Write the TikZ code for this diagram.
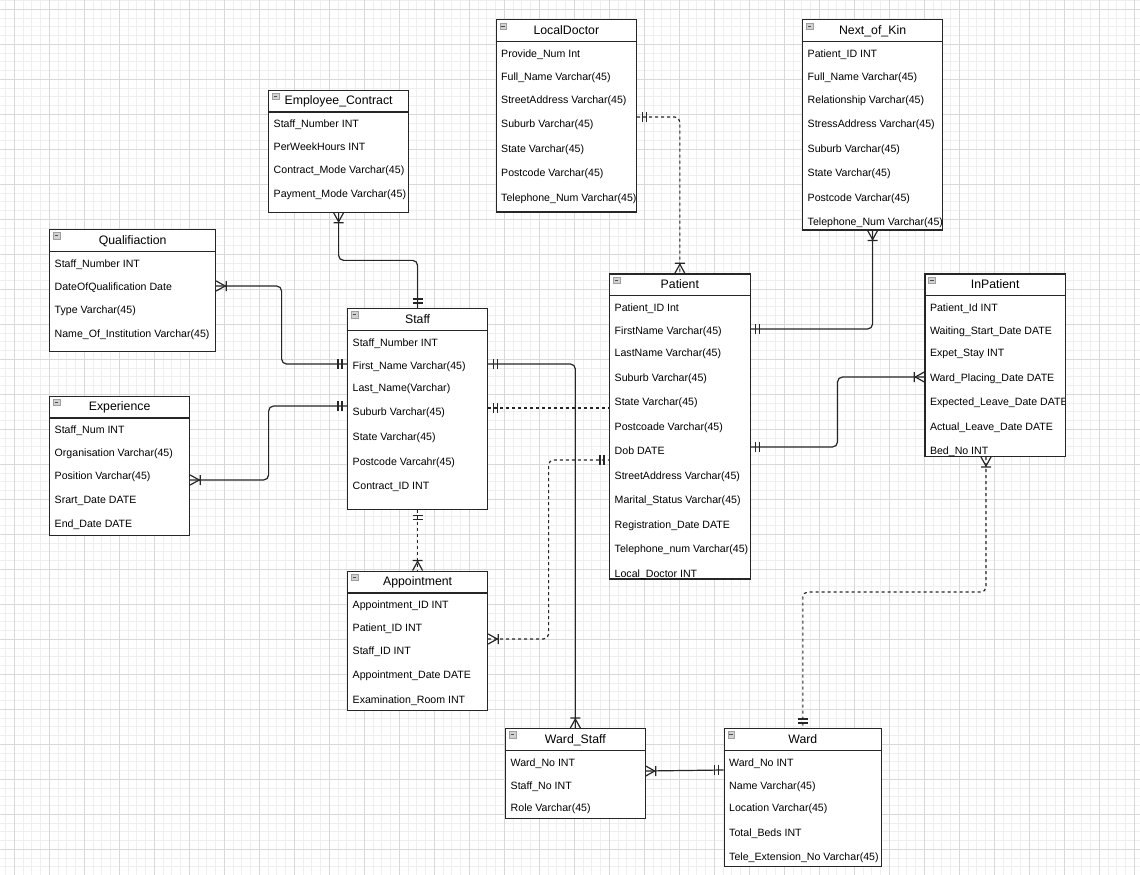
\documentclass[tikz,border=0pt]{standalone}
\usepackage{fontspec}
\setmainfont{Liberation Sans}
\usetikzlibrary{calc}
\definecolor{gminor}{HTML}{EFEFEF}
\definecolor{gmajor}{HTML}{D8D8D8}
\definecolor{lnc}{HTML}{262626}
\tikzset{
 ent/.style={draw=lnc, line width=1.2pt, fill=white, rectangle, inner sep=0pt, anchor=north west},
 hdr/.style={draw=lnc, line width=1.2pt},
 ttl/.style={font=\fontsize{12.3}{14}\selectfont, inner sep=0pt, text=black},
 rowtxt/.style={font=\fontsize{10.6}{12}\selectfont, inner sep=0pt, anchor=base west, text=black},
 icon/.style={draw=gray!75, fill=gray!35, minimum size=6.5pt, inner sep=0pt, line width=0.5pt,
   path picture={\draw[black!70, line width=0.8pt] ([xshift=1.3pt]path picture bounding box.west) -- ([xshift=-1.3pt]path picture bounding box.east);}},
 conn/.style={draw=lnc, line width=1.2pt, rounded corners=5pt},
 dsh/.style={dash pattern=on 3pt off 3pt},
 mk/.style={draw=lnc, line width=1.2pt, solid},
}
\newcommand\entity[6]{%
 \node[ent, minimum width=#4pt, minimum height=#5pt] (#1) at (#2,#3) {};
 \draw[hdr] ([yshift=-22.5pt]#1.north west) -- ([yshift=-22.5pt]#1.north east);
 \node[ttl, anchor=base] (#1-t) at ([yshift=-15.3pt]#1.north) {#6};
 \node[icon] (#1-i) at ([xshift=7.5pt,yshift=-6.8pt]#1.north west) {};
}
\newcommand\rw[4]{\node[rowtxt] (#1) at ($(#2.west |- 0,#3)+(5.5,4.1)$) {#4};}
\newcommand\mOne[2]{%
 \pgfmathsetmacro\mpa{#2+90}\pgfmathsetmacro\mpb{#2-90}%
 \draw[mk] ($(#1)+(#2:5)+(\mpa:5)$) -- ($(#1)+(#2:5)+(\mpb:5)$)
           ($(#1)+(#2:9)+(\mpa:5)$) -- ($(#1)+(#2:9)+(\mpb:5)$);}
\newcommand\mMany[2]{%
 \pgfmathsetmacro\mpa{#2+90}\pgfmathsetmacro\mpb{#2-90}%
 \draw[mk] ($(#1)+(#2:10)+(\mpa:5)$) -- ($(#1)+(#2:10)+(\mpb:5)$)
           ($(#1)+(\mpa:5)$) -- ($(#1)+(#2:9)$) -- ($(#1)+(\mpb:5)$);}
\begin{document}
\begin{tikzpicture}[x=1pt,y=-1pt]
\useasboundingbox (0,0) rectangle (1140,875);
\fill[white] (0,0) rectangle (1140,875);
% grid
\foreach \i in {0,...,129} \draw[gminor, line width=0.7pt] ({5.55+8.75*\i},0) -- ({5.55+8.75*\i},875);
\foreach \i in {0,...,99} \draw[gminor, line width=0.7pt] (0,{0.55+8.75*\i}) -- (1140,{0.55+8.75*\i});
\foreach \i in {0,...,32} \draw[gmajor, line width=0.8pt] ({14.3+35*\i},0) -- ({14.3+35*\i},875);
\foreach \i in {0,...,24} \draw[gmajor, line width=0.8pt] (0,{9.3+35*\i}) -- (1140,{9.3+35*\i});

% Employee_Contract
\entity{ec}{268}{89.5}{140}{122}{Employee\_Contract}
\rw{ec-1}{ec}{123}{Staff\_Number INT}
\rw{ec-2}{ec}{146}{PerWeekHours INT}
\rw{ec-3}{ec}{169}{Contract\_Mode Varchar(45)}
\rw{ec-4}{ec}{193}{Payment\_Mode Varchar(45)}

% Qualifiaction
\entity{ql}{49}{229}{166}{122}{Qualifiaction}
\rw{ql-1}{ql}{263}{Staff\_Number INT}
\rw{ql-2}{ql}{286}{DateOfQualification Date}
\rw{ql-3}{ql}{309}{Type Varchar(45)}
\rw{ql-4}{ql}{333}{Name\_Of\_Institution Varchar(45)}

% Experience
\entity{ex}{49}{395.5}{140}{139.5}{Experience}
\rw{ex-1}{ex}{429}{Staff\_Num INT}
\rw{ex-2}{ex}{452}{Organisation Varchar(45)}
\rw{ex-3}{ex}{475}{Position Varchar(45)}
\rw{ex-4}{ex}{499}{Srart\_Date DATE}
\rw{ex-5}{ex}{523}{End\_Date DATE}

% Staff
\entity{st}{347}{308}{140}{201}{Staff}
\rw{st-1}{st}{342}{Staff\_Number INT}
\rw{st-2}{st}{365}{First\_Name Varchar(45)}
\rw{st-3}{st}{387}{Last\_Name(Varchar)}
\rw{st-4}{st}{411}{Suburb Varchar(45)}
\rw{st-5}{st}{436}{State Varchar(45)}
\rw{st-6}{st}{461}{Postcode Varcahr(45)}
\rw{st-7}{st}{485}{Contract\_ID INT}

% Appointment
\entity{ap}{347}{570.5}{140}{139.5}{Appointment}
\rw{ap-1}{ap}{604}{Appointment\_ID INT}
\rw{ap-2}{ap}{627}{Patient\_ID INT}
\rw{ap-3}{ap}{650}{Staff\_ID INT}
\rw{ap-4}{ap}{674}{Appointment\_Date DATE}
\rw{ap-5}{ap}{699}{Examination\_Room INT}

% LocalDoctor
\entity{ld}{495.5}{19.3}{140.5}{192}{LocalDoctor}
\begin{scope}
\clip ([xshift=-1pt]ld.north west) rectangle ([xshift=-2pt]ld.south east);
\rw{ld-1}{ld}{53}{Provide\_Num Int}
\rw{ld-2}{ld}{76}{Full\_Name Varchar(45)}
\rw{ld-3}{ld}{99}{StreetAddress Varchar(45)}
\rw{ld-4}{ld}{123}{Suburb Varchar(45)}
\rw{ld-5}{ld}{148}{State Varchar(45)}
\rw{ld-6}{ld}{172}{Postcode Varchar(45)}
\rw{ld-7}{ld}{197}{Telephone\_Num Varchar(45)}
\end{scope}

% Next_of_Kin
\entity{nk}{802}{19.3}{140}{210}{Next\_of\_Kin}
\begin{scope}
\clip (nk.north west) rectangle ([xshift=-1pt]nk.south east);
\rw{nk-1}{nk}{53}{Patient\_ID INT}
\rw{nk-2}{nk}{76}{Full\_Name Varchar(45)}
\rw{nk-3}{nk}{99}{Relationship Varchar(45)}
\rw{nk-4}{nk}{123}{StressAddress Varchar(45)}
\rw{nk-5}{nk}{148}{Suburb Varchar(45)}
\rw{nk-6}{nk}{172}{State Varchar(45)}
\rw{nk-7}{nk}{197}{Postcode Varchar(45)}
\rw{nk-8}{nk}{221}{Telephone\_Num Varchar(45)}
\end{scope}

% Patient
\entity{pt}{609}{273.3}{140.5}{305}{Patient}
\begin{scope}
\clip (pt.north west) rectangle (pt.south east);
\rw{pt-1}{pt}{307}{Patient\_ID Int}
\rw{pt-2}{pt}{330}{FirstName Varchar(45)}
\rw{pt-3}{pt}{352}{LastName Varchar(45)}
\rw{pt-4}{pt}{377}{Suburb Varchar(45)}
\rw{pt-5}{pt}{401}{State Varchar(45)}
\rw{pt-6}{pt}{426}{Postcoade Varchar(45)}
\rw{pt-7}{pt}{450}{Dob DATE}
\rw{pt-8}{pt}{475}{StreetAddress Varchar(45)}
\rw{pt-9}{pt}{499}{Marital\_Status Varchar(45)}
\rw{pt-10}{pt}{524}{Registration\_Date DATE}
\rw{pt-11}{pt}{548}{Telephone\_num Varchar(45)}
\rw{pt-12}{pt}{573}{Local\_Doctor INT}
\end{scope}

% InPatient
\entity{ip}{924.3}{273.3}{140.5}{182.5}{InPatient}
\begin{scope}
\clip (ip.north west) rectangle ([xshift=-2pt]ip.south east);
\rw{ip-1}{ip}{307}{Patient\_Id INT}
\rw{ip-2}{ip}{330}{Waiting\_Start\_Date DATE}
\rw{ip-3}{ip}{352}{Expet\_Stay INT}
\rw{ip-4}{ip}{377}{Ward\_Placing\_Date DATE}
\rw{ip-5}{ip}{401}{Expected\_Leave\_Date DATE}
\rw{ip-6}{ip}{426}{Actual\_Leave\_Date DATE}
\rw{ip-7}{ip}{450}{Bed\_No INT}
\end{scope}

% Ward_Staff
\entity{ws}{505}{728}{139.5}{90}{Ward\_Staff}
\rw{ws-1}{ws}{762}{Ward\_No INT}
\rw{ws-2}{ws}{785}{Staff\_No INT}
\rw{ws-3}{ws}{807}{Role Varchar(45)}

% Ward
\entity{wd}{723.5}{728}{157.5}{138}{Ward}
\rw{wd-1}{wd}{762}{Ward\_No INT}
\rw{wd-2}{wd}{785}{Name Varchar(45)}
\rw{wd-3}{wd}{807}{Location Varchar(45)}
\rw{wd-4}{wd}{832}{Total\_Beds INT}
\rw{wd-5}{wd}{856}{Tele\_Extension\_No Varchar(45)}

% connector end points
\coordinate (a1) at (ec.south);            \coordinate (b1) at (st.north);
\coordinate (a2) at (ql.east |- 0,286);    \coordinate (b2) at (st.west |- 0,364);
\coordinate (a3) at (ex.east |- 0,480);    \coordinate (b3) at (st.west |- 0,406);
\coordinate (a4) at (st.east |- 0,364);    \coordinate (b4) at (ws.north);
\coordinate (a5) at (st.east |- 0,408);    \coordinate (b5) at (pt.west |- 0,408);
\coordinate (a6) at (st.south);            \coordinate (b6) at (ap.north);
\coordinate (a7) at (ap.east |- 0,639);    \coordinate (b7) at (pt.west |- 0,460);
\coordinate (a8) at (ld.east |- 0,117);    \coordinate (b8) at (pt.north);
\coordinate (a9) at (nk.south);            \coordinate (b9) at (pt.east |- 0,329);
\coordinate (a10) at (pt.east |- 0,447);   \coordinate (b10) at (ip.west |- 0,377);
\coordinate (a11) at (ip.south -| 986,0);  \coordinate (b11) at (wd.north);
\coordinate (a12) at (ws.east |- 0,771);   \coordinate (b12) at (wd.west |- 0,770);

% connectors
\draw[conn] (a1) |- ($(a1)!.5!(b1)$) -| (b1);
\draw[conn] (a2) -| ($(a2)!.5!(b2)$) |- (b2);
\draw[conn] (a3) -| ($(a3)!.5!(b3)$) |- (b3);
\draw[conn] (a4) -| (b4);
\draw[conn,dsh] (a5) -- (b5);
\draw[conn,dsh] (a6) -- (b6);
\draw[conn,dsh] (a7) -| ($(a7)!.5!(b7)$) |- (b7);
\draw[conn,dsh] (a8) -| (b8);
\draw[conn] (a9) |- (b9);
\draw[conn] (a10) -| ($(a10)!.5!(b10)$) |- (b10);
\draw[conn,dsh] (a11) -- (a11 |- 0,592) -| (b11);
\draw[conn] (a12) -- (b12);

% markers
\mMany{a1}{90}   \mOne{b1}{270}
\mMany{a2}{0}    \mOne{b2}{180}
\mMany{a3}{0}    \mOne{b3}{180}
\mOne{a4}{0}     \mMany{b4}{270}
\mOne{a5}{0}
\mOne{a6}{90}    \mMany{b6}{270}
\mMany{a7}{0}    \mOne{b7}{180}
\mOne{a8}{0}     \mMany{b8}{270}
\mMany{a9}{90}   \mOne{b9}{0}
\mOne{a10}{0}    \mMany{b10}{180}
\mMany{a11}{90}  \mOne{b11}{270}
\mMany{a12}{0}   \mOne{b12}{180}
\end{tikzpicture}
\end{document}
